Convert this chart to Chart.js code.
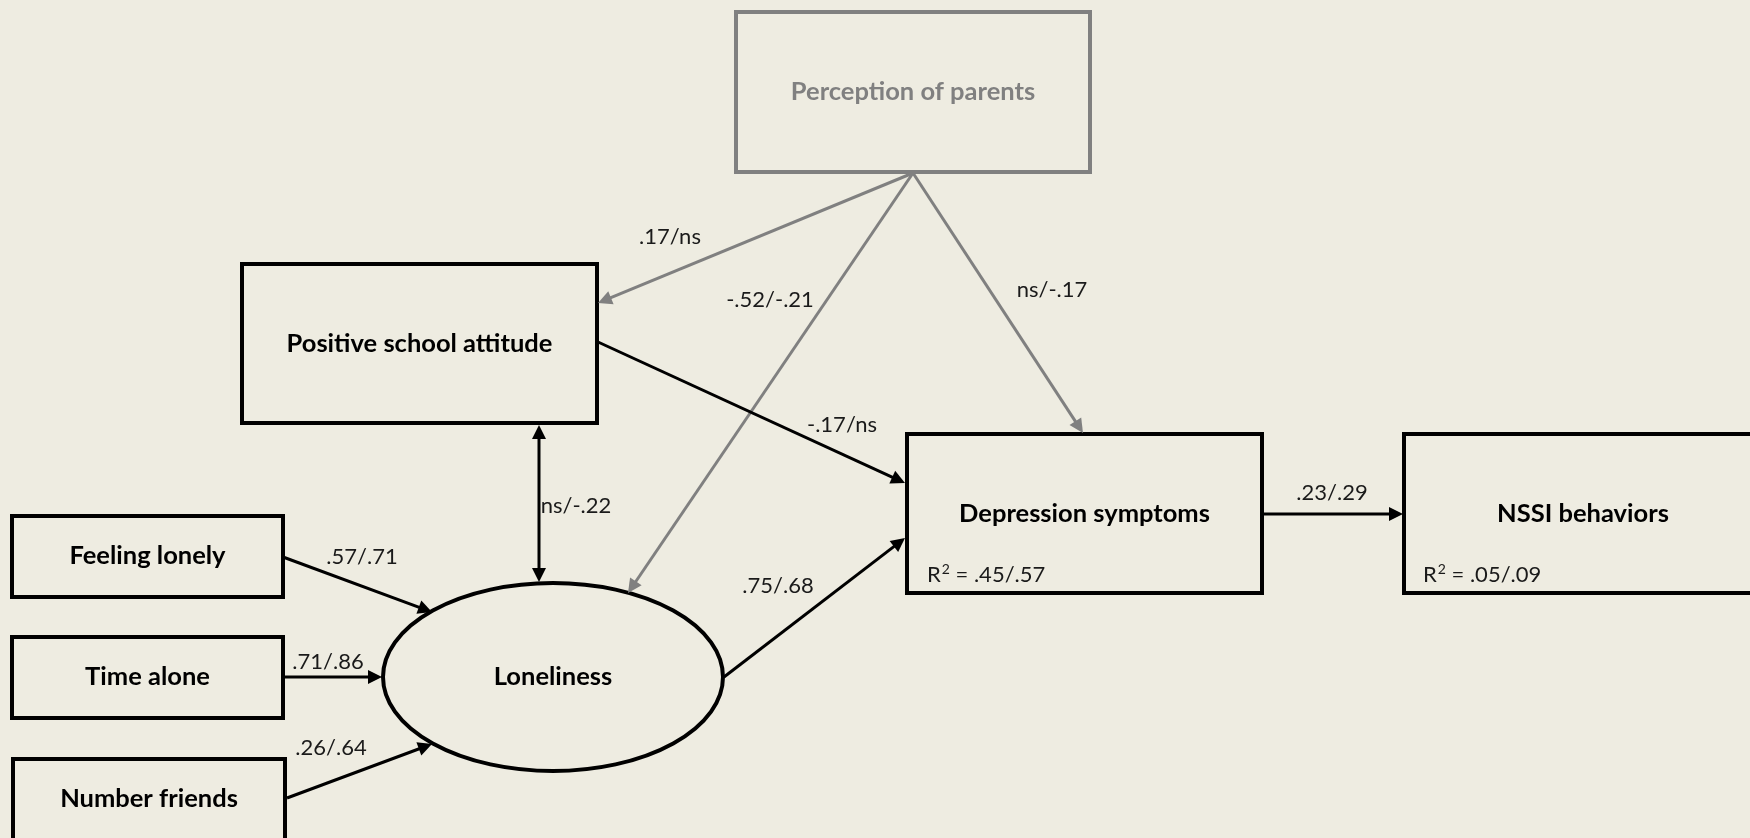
<!DOCTYPE html>
<html>
<head>
<meta charset="utf-8">
<script src="https://cdn.jsdelivr.net/npm/chart.js@4.4.0/dist/chart.umd.min.js"></script>
<style>
    html, body { margin: 0; padding: 0; background: #EEECE1; overflow: hidden; }
    #wrap { width: 1750px; height: 838px; }
</style>
</head>
<body>
<div id="wrap"><canvas id="pathChart" width="1750" height="838"></canvas></div>
<script>
// Model variables
const nodeNames = ['Perception of parents', 'Positive school attitude', 'Feeling lonely', 'Time alone',
                   'Number friends', 'Loneliness', 'Depression symptoms', 'NSSI behaviors'];
const nodeR2 = [null, null, null, null, null, null, '.45/.57', '.05/.09'];

// Paths: source node -> target node, standardized estimates (group 1 / group 2)
const pathFrom = [0, 0, 0, 1, 1, 2, 3, 4, 5, 6];
const pathTo   = [1, 5, 6, 6, 5, 5, 5, 5, 6, 7];
const pathCoef = ['.17/ns', '-.52/-.21', 'ns/-.17', '-.17/ns', 'ns/-.22',
                  '.57/.71', '.71/.86', '.26/.64', '.75/.68', '.23/.29'];
const pathTwoWay = [false, false, false, false, true, false, false, false, false, false];

// Layout (diagram units, same as scale units)
const nodeLayout = [
    { shape: 'rect', x0: 736, y0: 12,  x1: 1090, y1: 172, ty: 92,  color: '#808080' },
    { shape: 'rect', x0: 242, y0: 264, x1: 597,  y1: 423, ty: 344 },
    { shape: 'rect', x0: 12,  y0: 516, x1: 283,  y1: 597, ty: 556 },
    { shape: 'rect', x0: 12,  y0: 637, x1: 283,  y1: 718, ty: 677 },
    { shape: 'rect', x0: 13,  y0: 759, x1: 285,  y1: 860, ty: 799 },
    { shape: 'ellipse', cx: 553, cy: 677, rx: 170, ry: 94, ty: 677 },
    { shape: 'rect', x0: 907, y0: 434, x1: 1262, y1: 593, ty: 514, r2x: 927, r2y: 575 },
    { shape: 'rect', x0: 1404, y0: 434, x1: 1762, y1: 593, ty: 514, r2x: 1423, r2y: 575 }
];
const pathLayout = [
    { a: [913, 173], b: [598, 303],  lab: [670, 237] },
    { a: [913, 173], b: [628, 593],  lab: [770, 300] },
    { a: [913, 173], b: [1083, 433], lab: [1052, 290] },
    { a: [598, 342], b: [905, 483],  lab: [842, 425] },
    { a: [539, 425], b: [539, 582],  lab: [576, 506] },
    { a: [283, 557], b: [432, 612],  lab: [362, 557] },
    { a: [283, 677], b: [382, 677],  lab: [328, 662] },
    { a: [287, 798], b: [432, 744],  lab: [331, 748] },
    { a: [724, 677], b: [905, 538],  lab: [778, 586] },
    { a: [1262, 514], b: [1403, 514], lab: [1332, 493] }
];

const BG = '#EEECE1';
const INK = '#000000';

function arrowHead(ctx, x1, y1, x2, y2, color) {
    const ang = Math.atan2(y2 - y1, x2 - x1);
    const len = 14, half = 7;
    ctx.save();
    ctx.fillStyle = color;
    ctx.beginPath();
    ctx.moveTo(x2, y2);
    ctx.lineTo(x2 - len * Math.cos(ang) + half * Math.sin(ang), y2 - len * Math.sin(ang) - half * Math.cos(ang));
    ctx.lineTo(x2 - len * Math.cos(ang) - half * Math.sin(ang), y2 - len * Math.sin(ang) + half * Math.cos(ang));
    ctx.closePath();
    ctx.fill();
    ctx.restore();
}

const pathDiagram = {
    id: 'pathDiagram',
    beforeDraw(chart) {
        const ctx = chart.ctx;
        ctx.save();
        ctx.fillStyle = BG;
        ctx.fillRect(0, 0, chart.width, chart.height);
        ctx.restore();
    },
    afterDraw(chart) {
        const ctx = chart.ctx;
        const sx = v => chart.scales.x.getPixelForValue(v);
        const sy = v => chart.scales.y.getPixelForValue(v);

        // nodes
        nodeNames.forEach((name, i) => {
            const n = nodeLayout[i];
            const col = n.color || INK;
            ctx.save();
            ctx.lineWidth = 4;
            ctx.strokeStyle = col;
            ctx.beginPath();
            let cx;
            if (n.shape === 'ellipse') {
                cx = sx(n.cx);
                ctx.ellipse(sx(n.cx), sy(n.cy), sx(n.cx + n.rx) - sx(n.cx), Math.abs(sy(n.cy + n.ry) - sy(n.cy)), 0, 0, Math.PI * 2);
            } else {
                cx = (sx(n.x0) + sx(n.x1)) / 2;
                ctx.rect(sx(n.x0), sy(n.y0), sx(n.x1) - sx(n.x0), sy(n.y1) - sy(n.y0));
            }
            ctx.stroke();
            ctx.fillStyle = col;
            ctx.font = 'bold 25.5px Lato';
            ctx.textAlign = 'center';
            ctx.textBaseline = 'middle';
            ctx.fillText(name, cx, sy(n.ty));

            if (nodeR2[i]) {
                ctx.textAlign = 'left';
                ctx.fillStyle = '#1a1a1a';
                ctx.font = '22px Lato';
                let x = sx(n.r2x);
                const y = sy(n.r2y);
                ctx.fillText('R', x, y);
                x += ctx.measureText('R').width + 1;
                ctx.font = '14px Lato';
                ctx.fillText('2', x, y - 6);
                x += ctx.measureText('2').width;
                ctx.font = '22px Lato';
                ctx.fillText(' = ' + nodeR2[i], x, y);
            }
            ctx.restore();
        });

        // paths: grey (from parents) first, black on top
        const order = pathFrom.map((f, i) => i).sort((p, q) => (pathFrom[q] === 0) - (pathFrom[p] === 0));
        order.forEach(i => {
            const p = pathLayout[i];
            const col = nodeLayout[pathFrom[i]].color || INK;
            const x1 = sx(p.a[0]), y1 = sy(p.a[1]), x2 = sx(p.b[0]), y2 = sy(p.b[1]);
            const ang = Math.atan2(y2 - y1, x2 - x1);
            ctx.save();
            ctx.strokeStyle = col;
            ctx.lineWidth = 3;
            ctx.beginPath();
            const sOff = pathTwoWay[i] ? 10 : 0;
            ctx.moveTo(x1 + sOff * Math.cos(ang), y1 + sOff * Math.sin(ang));
            ctx.lineTo(x2 - 10 * Math.cos(ang), y2 - 10 * Math.sin(ang));
            ctx.stroke();
            ctx.restore();
            arrowHead(ctx, x1, y1, x2, y2, col);
            if (pathTwoWay[i]) arrowHead(ctx, x2, y2, x1, y1, col);

            ctx.save();
            ctx.fillStyle = '#1a1a1a';
            ctx.font = '22px Lato';
            ctx.textAlign = 'center';
            ctx.textBaseline = 'middle';
            ctx.fillText(pathCoef[i], sx(p.lab[0]), sy(p.lab[1]));
            ctx.restore();
        });
    }
};

new Chart(document.getElementById('pathChart'), {
    type: 'scatter',
    data: { datasets: [{ data: [] }] },
    options: {
        responsive: false,
        animation: false,
        layout: { padding: 0 },
        plugins: { legend: { display: false }, tooltip: { enabled: false } },
        scales: {
            x: { type: 'linear', min: 0, max: 1750, display: false },
            y: { type: 'linear', min: 0, max: 838, reverse: true, display: false }
        }
    },
    plugins: [pathDiagram]
});
</script>
</body>
</html>
